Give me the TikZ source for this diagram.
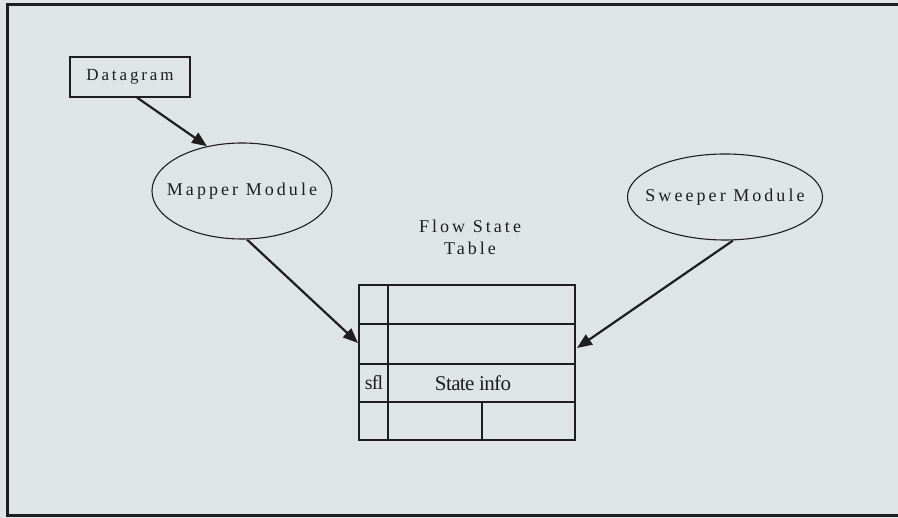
\documentclass[tikz,border=0pt]{standalone}
\usepackage{fontspec}
\setmainfont{Liberation Serif}
\newfontfamily\spaced[LetterSpace=17]{Liberation Serif}
\usetikzlibrary{shapes.geometric,arrows.meta}
\definecolor{bg}{HTML}{DFE4E4}
\definecolor{ink}{HTML}{1E1E1E}
\begin{document}
\begin{tikzpicture}[x=1pt,y=-1pt,
  lbl/.style={font=\spaced\fontsize{18}{22}\selectfont, text=ink},
  oval/.style={ellipse, draw=ink, line width=1.1pt, inner sep=0pt},
  conn/.style={draw=ink, line width=2.2pt, -{Triangle[length=15pt,width=12pt]}},
  grid/.style={draw=ink, line width=1.6pt}]
\useasboundingbox[fill=bg] (0,0) rectangle (898,518);
\draw[ink, line width=3pt] (900,4.5) -- (7.5,4.5) -- (7.5,516) -- (900,516);
\node[draw=ink, line width=1.1pt, minimum width=120pt, minimum height=40pt, inner sep=0pt] (dg) at (130,77) {};
\node[lbl, font=\spaced\fontsize{17}{20}\selectfont] (dgt) at (dg) {Datagram};
\node[oval, minimum width=180pt, minimum height=96pt] (mapper) at (242,191) {};
\node[lbl] (mappert) at (mapper) {Mapper Module};
\node[oval, minimum width=195pt, minimum height=86pt] (sweeper) at (725,197) {};
\node[lbl] (sweepert) at (sweeper) {Sweeper Module};
\node[lbl, align=center, font=\spaced\fontsize{18}{22}\selectfont] (title) at (470,237) {Flow State\\Table};
\node[grid, minimum width=216pt, minimum height=155pt, inner sep=0pt] (tbl) at (467,362.5) {};
\draw[grid] (359,324) -- (575,324) (359,364) -- (575,364) (359,402) -- (575,402);
\draw[grid] (388,285) -- (388,440) (482,402) -- (482,440);
\node[font=\fontsize{20}{22}\selectfont, text=ink] (sfl) at (374,383) {\addfontfeature{LetterSpace=-4}sfl};
\node[font=\fontsize{21}{23}\selectfont, text=ink] (info) at (473,383) {\addfontfeature{LetterSpace=-3}State info};
\coordinate (tin1) at (358,343);
\coordinate (tin2) at (577,348);
\draw[conn] ([xshift=7pt]dg.south) -- (mapper.128);
\draw[conn] ([xshift=5pt]mapper.south) -- (tin1);
\draw[conn] ([xshift=8pt]sweeper.south) -- (tin2);
\end{tikzpicture}
\end{document}
